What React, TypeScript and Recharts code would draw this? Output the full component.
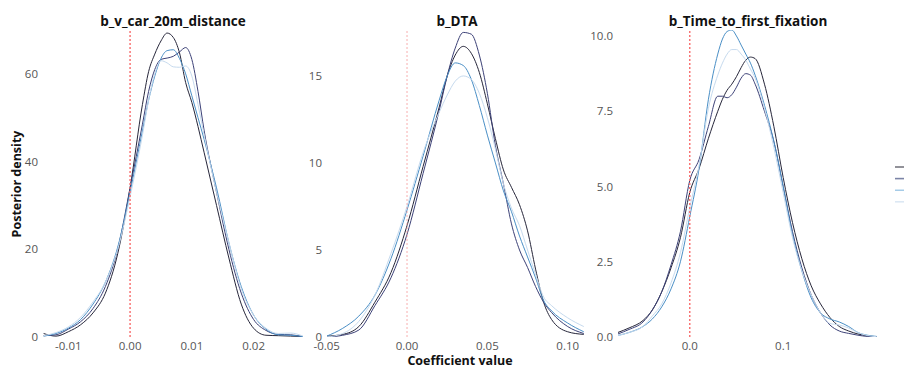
import React from 'react';
import { LineChart, Line, XAxis, YAxis, ReferenceLine } from 'recharts';

const chainKeys = ['c1', 'c2', 'c3', 'c4'];
const chainColors = ['#26263a', '#3c4177', '#4a8fc6', '#c6daee'];
const legendColors = ['#4a4a55', '#7b84a6', '#8fbfe2', '#dce8f4'];

// Panel 1: b_v_car_20m_distance
const p1Title = 'b_v_car_20m_distance';
const p1X = [-0.014, -0.012, -0.010, -0.008, -0.006, -0.004, -0.002, 0, 0.002, 0.003, 0.004, 0.005, 0.006, 0.007, 0.008, 0.009, 0.010, 0.011, 0.012, 0.014, 0.016, 0.018, 0.020, 0.022, 0.024, 0.026, 0.028];
const p1C1 = [0.8, 0.2, 1.2, 2.8, 5.5, 10, 19, 34, 53, 60.5, 64.5, 67.5, 69.3, 68.3, 64.8, 58, 53.5, 48, 42, 30, 18, 7.5, 2.0, 0.4, 0.3, 0.2, 0.1];
const p1C2 = [0.3, 0.5, 1.8, 3.5, 6.5, 11.5, 20, 34, 48.5, 56, 61, 63.3, 63.6, 64, 65, 66, 63.3, 56, 47, 33, 20, 10, 4, 1.5, 0.6, 0.5, 0.1];
const p1C3 = [0.2, 0.8, 2.0, 4.0, 7.5, 12.5, 20.5, 33, 47, 54, 59.5, 63.5, 65.3, 65.5, 63.5, 60, 55, 50, 45, 34, 21.5, 11.5, 5, 1.8, 0.5, 0.4, 0.1];
const p1C4 = [0.3, 1.0, 2.3, 4.5, 8.0, 12.5, 20, 32, 46, 54, 60, 63, 62.5, 61.6, 61.5, 61.8, 59.5, 53, 46, 33, 21.5, 11, 5, 2, 0.8, 0.9, 0.2];
const p1XTicks = [-0.01, 0, 0.01, 0.02];
const p1YTicks = [0, 20, 40, 60];

// Panel 2: b_DTA
const p2Title = 'b_DTA';
const p2X = [-0.05, -0.04, -0.03, -0.02, -0.01, 0, 0.01, 0.02, 0.025, 0.03, 0.035, 0.04, 0.045, 0.05, 0.055, 0.06, 0.065, 0.07, 0.075, 0.08, 0.085, 0.09, 0.10, 0.11];
const p2C1 = [0.05, 0.15, 0.6, 2.0, 3.7, 6.4, 9.8, 13.2, 15.0, 16.2, 16.7, 16.3, 15.2, 13.4, 11.4, 9.6, 8.6, 7.6, 6.1, 3.9, 2.0, 1.0, 0.3, 0.15];
const p2C2 = [0.0, 0.1, 0.4, 1.8, 3.4, 5.9, 9.4, 13.0, 15.0, 16.6, 17.5, 17.4, 16.2, 14.0, 11.0, 8.8, 6.5, 5.0, 4.0, 2.9, 2.0, 1.4, 0.6, 0.2];
const p2C3 = [0.05, 0.5, 1.2, 2.4, 4.5, 7.3, 10.4, 13.6, 15.0, 15.75, 15.6, 14.8, 13.3, 11.6, 10.0, 8.4, 7.2, 5.8, 4.6, 3.4, 2.1, 1.5, 0.8, 0.3];
const p2C4 = [0.0, 0.2, 0.9, 2.4, 4.8, 7.5, 10.6, 12.9, 13.9, 14.7, 15.0, 14.8, 14.0, 12.6, 10.8, 8.8, 7.4, 6.4, 5.0, 3.6, 2.3, 1.8, 1.1, 0.6];
const p2XTicks = [-0.05, 0, 0.05, 0.1];
const p2YTicks = [0, 5, 10, 15];

// Panel 3: b_Time_to_first_fixation
const p3Title = 'b_Time_to_first_fixation';
const p3X = [-0.077, -0.065, -0.05, -0.04, -0.03, -0.02, -0.01, 0, 0.01, 0.02, 0.03, 0.035, 0.04, 0.045, 0.05, 0.055, 0.06, 0.065, 0.07, 0.08, 0.09, 0.10, 0.11, 0.12, 0.13, 0.14, 0.15, 0.16, 0.17, 0.18, 0.19, 0.2];
const p3C1 = [0.15, 0.3, 0.55, 0.9, 1.5, 2.3, 3.3, 4.8, 5.6, 6.6, 7.5, 7.9, 8.2, 8.4, 8.65, 8.95, 9.2, 9.3, 9.25, 8.4, 7.0, 5.3, 3.8, 2.6, 1.7, 1.1, 0.65, 0.35, 0.2, 0.1, 0.04, 0.01];
const p3C2 = [0.1, 0.25, 0.5, 0.9, 1.5, 2.4, 3.5, 5.2, 5.9, 7.0, 8.0, 8.0, 7.95, 8.05, 8.3, 8.6, 8.75, 8.7, 8.4, 7.5, 6.5, 5.0, 3.5, 2.3, 1.4, 0.8, 0.4, 0.2, 0.12, 0.06, 0.02, 0.01];
const p3C3 = [0.05, 0.15, 0.35, 0.6, 1.0, 1.6, 2.5, 4.0, 5.6, 7.9, 9.4, 9.9, 10.15, 10.2, 10.0, 9.7, 9.4, 9.1, 8.7, 7.7, 6.5, 5.0, 3.4, 2.2, 1.3, 0.8, 0.6, 0.5, 0.35, 0.15, 0.06, 0.02];
const p3C4 = [0.05, 0.15, 0.35, 0.7, 1.1, 1.8, 2.8, 4.3, 5.7, 7.6, 8.7, 9.1, 9.4, 9.55, 9.55, 9.4, 9.2, 8.9, 8.6, 7.6, 6.3, 4.8, 3.3, 2.2, 1.4, 0.8, 0.45, 0.4, 0.3, 0.15, 0.05, 0.01];
const p3XTicks = [0, 0.1];
const p3YTicks = [0, 2.5, 5, 7.5, 10];

const yAxisLabel = 'Posterior density';
const xAxisLabel = 'Coefficient value';

const FONT = '"Open Sans", "Noto Sans", sans-serif';

function buildRows(xs: number[], s: number[][]) {
  return xs.map((x, i) => ({ x, c1: s[0][i], c2: s[1][i], c3: s[2][i], c4: s[3][i] }));
}

type PanelProps = {
  left: number;
  width: number;
  yw: number;
  plotW: number;
  title: string;
  rows: any[];
  xDomain: [number, number];
  xTicks: number[];
  xFmt: (v: number) => string;
  yDomain: [number, number];
  yTicks: number[];
  yFmt: (v: number) => string;
  refStroke: string;
  refWidth: number;
};

function Panel(p: PanelProps) {
  const tickStyle = { fontSize: 11.5, fill: '#555555', fontFamily: FONT };
  return (
    <>
      <div
        style={{
          position: 'absolute',
          left: p.left + p.yw,
          width: p.plotW,
          top: 11,
          textAlign: 'center',
          fontFamily: FONT,
          fontWeight: 700,
          fontSize: 13.5,
          color: '#111',
          lineHeight: '20px',
        }}
      >
        {p.title}
      </div>
      <div style={{ position: 'absolute', left: p.left, top: 0 }}>
        <LineChart
          width={p.width}
          height={368}
          data={p.rows}
          margin={{ top: 30, right: p.width - p.yw - p.plotW, bottom: 0, left: 0 }}
        >
          <XAxis
            type="number"
            dataKey="x"
            domain={p.xDomain}
            ticks={p.xTicks}
            interval={0}
            allowDataOverflow
            axisLine={false}
            tickLine={false}
            tickSize={0}
            tickMargin={5}
            height={31}
            tick={tickStyle}
            tickFormatter={p.xFmt}
          />
          <YAxis
            type="number"
            domain={p.yDomain}
            ticks={p.yTicks}
            interval={0}
            allowDataOverflow
            axisLine={false}
            tickLine={false}
            tickSize={0}
            tickMargin={5}
            width={p.yw}
            tick={tickStyle}
            tickFormatter={p.yFmt}
          />
          {chainKeys.map((k, i) => (
            <Line
              key={k}
              type="monotone"
              dataKey={k}
              stroke={chainColors[i]}
              strokeWidth={1}
              dot={false}
              activeDot={false}
              isAnimationActive={false}
            />
          ))}
          <ReferenceLine x={0} stroke={p.refStroke} strokeWidth={p.refWidth} strokeDasharray="2 2" />
        </LineChart>
      </div>
    </>
  );
}

export default function App() {
  const rows1 = buildRows(p1X, [p1C1, p1C2, p1C3, p1C4]);
  const rows2 = buildRows(p2X, [p2C1, p2C2, p2C3, p2C4]);
  const rows3 = buildRows(p3X, [p3C1, p3C2, p3C3, p3C4]);
  return (
    <div style={{ position: 'absolute', left: 0, top: 0, width: 907, height: 368, background: '#fff', overflow: 'hidden' }}>
      <Panel
        left={0}
        width={310}
        yw={43}
        plotW={260}
        title={p1Title}
        rows={rows1}
        xDomain={[-0.0141, 0.028]}
        xTicks={p1XTicks}
        xFmt={(v) => v.toFixed(2)}
        yDomain={[0, 70]}
        yTicks={p1YTicks}
        yFmt={(v) => String(v)}
        refStroke="#f87474"
        refWidth={1.5}
      />
      <Panel
        left={300}
        width={300}
        yw={27}
        plotW={260}
        title={p2Title}
        rows={rows2}
        xDomain={[-0.0498, 0.112]}
        xTicks={p2XTicks}
        xFmt={(v) => v.toFixed(2)}
        yDomain={[0, 17.64]}
        yTicks={p2YTicks}
        yFmt={(v) => String(v)}
        refStroke="#f59a9a"
        refWidth={0.8}
      />
      <Panel
        left={590}
        width={317}
        yw={28}
        plotW={260}
        title={p3Title}
        rows={rows3}
        xDomain={[-0.0768, 0.2015]}
        xTicks={p3XTicks}
        xFmt={(v) => v.toFixed(1)}
        yDomain={[0, 10.2]}
        yTicks={p3YTicks}
        yFmt={(v) => v.toFixed(1)}
        refStroke="#f87474"
        refWidth={1.5}
      />
      <div
        style={{
          position: 'absolute',
          left: 17 - 60,
          top: 184 - 10,
          width: 120,
          height: 20,
          lineHeight: '20px',
          textAlign: 'center',
          transform: 'rotate(-90deg)',
          fontFamily: FONT,
          fontWeight: 700,
          fontSize: 12.5,
          color: '#111',
        }}
      >
        {yAxisLabel}
      </div>
      <div
        style={{
          position: 'absolute',
          left: 460 - 80,
          top: 354,
          width: 160,
          height: 14,
          lineHeight: '14px',
          textAlign: 'center',
          fontFamily: FONT,
          fontWeight: 700,
          fontSize: 12.5,
          color: '#111',
        }}
      >
        {xAxisLabel}
      </div>
      <svg style={{ position: 'absolute', left: 893, top: 160 }} width={14} height={50}>
        {legendColors.map((c, i) => (
          <line key={i} x1={2} x2={11} y1={7 + i * 11.6} y2={7 + i * 11.6} stroke={c} strokeWidth={i % 2 === 1 ? 1.6 : 1.2} />
        ))}
      </svg>
    </div>
  );
}
